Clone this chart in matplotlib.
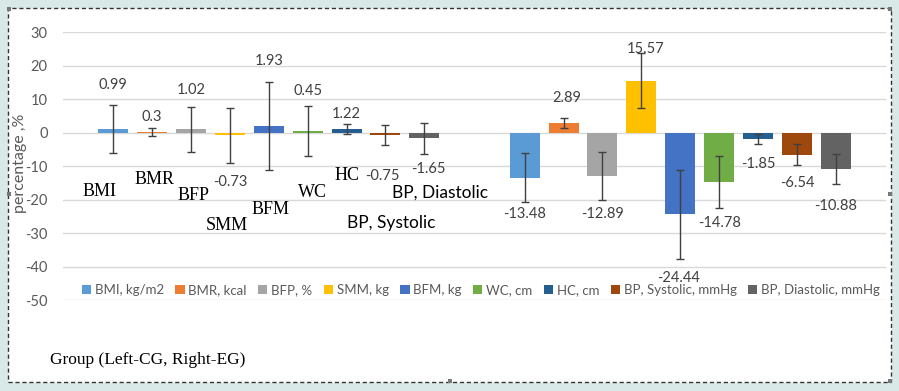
import matplotlib
matplotlib.use("Agg")
import matplotlib.pyplot as plt
from matplotlib.patches import Rectangle, Patch

# ---------------- data ----------------
metrics = ["BMI, kg/m2", "BMR, kcal", "BFP, %", "SMM, kg", "BFM, kg",
           "WC, cm", "HC, cm", "BP, Systolic, mmHg", "BP, Diastolic, mmHg"]
groups = ["CG", "EG"]
cg_vals = [0.99, 0.3, 1.02, -0.73, 1.93, 0.45, 1.22, -0.75, -1.65]
eg_vals = [-13.48, 2.89, -12.89, 15.57, -24.44, -14.78, -1.85, -6.54, -10.88]
cg_err = [7.2, 1.2, 6.7, 8.2, 13.2, 7.5, 1.5, 3.0, 4.6]
eg_err = [7.3, 1.4, 7.1, 8.2, 13.3, 7.7, 1.6, 3.1, 4.6]
yticks = [30, 20, 10, 0, -10, -20, -30, -40, -50]
short_names = ["BMI", "BMR", "BFP", "SMM", "BFM", "WC", "HC",
               "BP, Diastolic", "BP, Systolic"]

# ---------------- style ----------------
colors = ["#5B9BD5", "#ED7D31", "#A5A5A5", "#FFC000", "#4472C4",
          "#70AD47", "#255E91", "#9E480E", "#636363"]
# label y positions (data units) for data labels
cg_label_y = [14.4, 4.6, 12.9, -14.8, 21.3, 12.4, 5.7, -12.8, -10.8]
eg_label_y = [-24.2, 10.5, -24.2, 24.9, -43.3, -27.1, -9.5, -15.1, -21.8]
cg_label_dx = [0, 0, 0, 0, 0, 0, 0, -0.008, 0.01]
eg_label_dx = [0, 0.008, 0, 0.01, -0.005, 0, 0, 0, 0]

W, H = 899, 391
fig = plt.figure(figsize=(W / 100, H / 100), dpi=100)
fig.patch.set_facecolor("#d9e9e7")

def fx(px):
    return px / W

def fy(py):
    return 1 - py / H

# white chart area with dashed border
fig.patches.append(Rectangle((fx(8), fy(382)), fx(891) - fx(8), fy(8) - fy(382),
                             transform=fig.transFigure, facecolor="white",
                             edgecolor="#333333", linewidth=1.0,
                             linestyle=(0, (3, 2)), zorder=-2))
# selection handles
for (hx, hy) in [(9, 9), (890, 9), (9, 194), (890, 194), (890, 381), (450, 381)]:
    fig.patches.append(Rectangle((fx(hx - 2), fy(hy + 2)), 4 / W, 4 / H,
                                 transform=fig.transFigure, facecolor="#777777",
                                 edgecolor="none", zorder=-1))

left, right, top, bottom = 63, 886, 32.3, 300
ax = fig.add_axes([fx(left), fy(bottom), fx(right) - fx(left), fy(top) - fy(bottom)])
ax.set_zorder(2)
ax.set_facecolor("none")
ax.set_xlim(-0.5, 1.5)
ax.set_ylim(-50, 30)
ax.set_yticks(yticks)
ax.set_yticklabels([str(t) for t in yticks])
ax.tick_params(axis="y", length=0, pad=11, labelsize=10.5, labelcolor="#595959")
ax.tick_params(axis="x", length=0, labelbottom=False)
for s in ax.spines.values():
    s.set_visible(False)
ax.grid(axis="y", color="#D9D9D9", linewidth=1)
ax.set_axisbelow(True)
for lab in ax.get_yticklabels():
    lab.set_family("Lato")

slot = 0.0945
bw = 0.073
num_font = "Lato"
for gi, (vals, errs, ly, ldx) in enumerate([(cg_vals, cg_err, cg_label_y, cg_label_dx),
                                            (eg_vals, eg_err, eg_label_y, eg_label_dx)]):
    for i in range(len(metrics)):
        x = gi + (i - 4) * slot
        ax.bar(x, vals[i], width=bw, color=colors[i], zorder=2,
               label=metrics[i] if gi == 0 else None)
        ax.errorbar(x, vals[i], yerr=errs[i], fmt="none", ecolor="#404040",
                    elinewidth=1.0, capsize=2.8, capthick=1.0, zorder=3)
        ax.text(x + ldx[i], ly[i], f"{vals[i]:g}", ha="center", va="center",
                fontsize=10.5, color="#404040", family=num_font, zorder=4)

# ylabel
fig.text(fx(20), fy(163), "percentage ,%", rotation=90, ha="center", va="center",
         fontsize=11.5, color="#595959", family="Lato")

# abbreviation annotations
ann_pos = [(100, 191), (155, 179), (194, 195), (227, 225), (271, 210),
           (312, 193), (347, 175), (440, 193), (391, 223)]
for name, (px, py) in zip(short_names, ann_pos):
    if name.startswith("BP"):
        fig.text(fx(px), fy(py), name, ha="center", va="center", fontsize=12.5,
                 family="Lato", color="black")
    else:
        fig.text(fx(px), fy(py), name, ha="center", va="center", fontsize=13,
                 family="Liberation Serif", color="black")

fig.text(fx(50), fy(360), "Group (Left-CG, Right-EG)", ha="left", va="center",
         fontsize=12.5, family="Liberation Serif", color="black")

# legend
handles = [Patch(facecolor=c, edgecolor="none") for c in colors]
leg = fig.legend(handles, metrics, loc="center", bbox_to_anchor=(fx(481), fy(290)),
                 ncol=9, frameon=False, handlelength=0.7,
                 handleheight=0.7, handletextpad=0.3, columnspacing=0.85,
                 prop={"family": "Lato", "size": 9.5})
for t in leg.get_texts():
    t.set_color("#595959")

fig.savefig("out.png", dpi=100, facecolor=fig.get_facecolor())
